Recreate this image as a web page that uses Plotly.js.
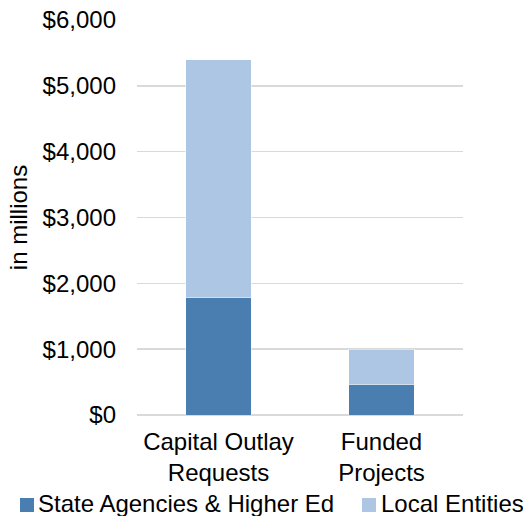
<!DOCTYPE html>
<html>
<head>
<meta charset="utf-8">
<script src="https://cdn.plot.ly/plotly-3.0.1.min.js"></script>
<style>html,body{margin:0;padding:0;background:#fff;}#chart{width:523px;height:516px;}</style>
</head>
<body>
<div id="chart"></div>
<script>
const categories = ["Capital Outlay<br>Requests", "Funded<br>Projects"];
const seriesNames = ["State Agencies & Higher Ed", "Local Entities"];
const stateValues = [1790, 465];
const localValues = [3610, 535];
const seriesColors = ["#4a7eb0", "#adc6e4"];

const FONT = "Liberation Sans, Arial, sans-serif";
const FS = 24;

const W = 523, H = 516;
const M = {l: 137, r: 60, t: 20, b: 101};
const PW = W - M.l - M.r, PH = H - M.t - M.b;
const px2x = p => (p - M.l) / PW;
const px2y = p => (H - M.b - p) / PH;

const traces = [
  {type: "bar", name: seriesNames[0], x: categories, y: stateValues,
   marker: {color: seriesColors[0], line: {color: "#ffffff", width: 0.5}}},
  {type: "bar", name: seriesNames[1], x: categories, y: localValues,
   marker: {color: seriesColors[1], line: {color: "#ffffff", width: 0.5}}}
];

// legend drawn as paper-anchored swatches + text
const legendSwatchPx = [20, 362];
const legendTextPx = [35.5, 378.5];
const shapes = [];
const annotations = [];
seriesNames.forEach((n, i) => {
  shapes.push({type: "rect", xref: "paper", yref: "paper",
    x0: px2x(legendSwatchPx[i]), x1: px2x(legendSwatchPx[i] + 14),
    y0: px2y(512), y1: px2y(498),
    fillcolor: seriesColors[i], line: {width: 0}});
  annotations.push({xref: "paper", yref: "paper", x: px2x(legendTextPx[i]), y: px2y(503),
    xanchor: "left", yanchor: "middle", text: n, showarrow: false,
    font: {family: FONT, size: FS, color: "#000"}});
});

const layout = {
  width: W, height: H,
  margin: M,
  paper_bgcolor: "#fff", plot_bgcolor: "#fff",
  barmode: "stack", bargap: 0.6,
  showlegend: false,
  font: {family: FONT, size: FS, color: "#000"},
  xaxis: {showgrid: false, showline: false, ticks: "", tickfont: {size: FS}, ticklabelstandoff: 10},
  yaxis: {range: [0, 6000], dtick: 1000, tickprefix: "$", tickformat: ",d",
    showgrid: true, gridcolor: "#d9d9d9", gridwidth: 1.5,
    zeroline: true, zerolinecolor: "#d9d9d9", zerolinewidth: 1.5,
    showline: false, ticks: "", ticklabelstandoff: 20,
    title: {text: "in millions", font: {size: FS}, standoff: 8}},
  shapes: shapes,
  annotations: annotations
};

Plotly.newPlot("chart", traces, layout, {displayModeBar: false, staticPlot: true});
</script>
</body>
</html>
